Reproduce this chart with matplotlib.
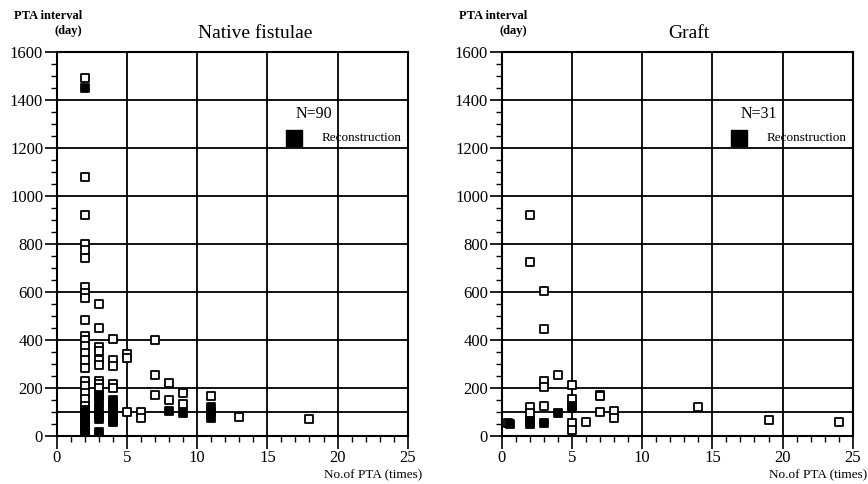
import matplotlib

matplotlib.use("Agg")
import matplotlib.pyplot as plt
from matplotlib.ticker import MultipleLocator

# Native fistulae: open = PTA only, filled = reconstruction
native_open_x = [2] * 21 + [3] * 10 + [4] * 5 + [5, 5, 5, 6, 6, 7, 7, 7, 8, 8, 9, 9, 11, 13, 18]
native_open_y = [1490, 1080, 920, 800, 775, 740, 620, 595, 575, 485, 415, 400, 375, 345,
                 315, 285, 230, 210, 180, 155, 125,
                 550, 450, 370, 355, 315, 295, 230, 215, 200, 170,
                 405, 315, 290, 215, 200,
                 340, 325, 100, 100, 75, 400, 255, 170, 220, 150, 180, 135, 165, 80, 70]
native_fill_x = [2] * 11 + [3] * 6 + [4] * 6 + [8, 9, 11, 11, 11]
native_fill_y = [1450, 110, 95, 80, 65, 50, 40, 30, 20, 10, 0,
                 165, 140, 110, 85, 70, 15,
                 150, 130, 110, 95, 75, 60,
                 105, 95, 120, 100, 75]

# Graft
graft_open_x = [0.4, 2, 2, 2, 2, 3, 3, 3, 3, 3, 4, 5, 5, 5, 5, 6, 7, 7, 7, 8, 8, 14, 19, 24]
graft_open_y = [55, 920, 725, 120, 95, 605, 445, 228, 205, 125, 255, 212, 155, 55, 25,
                58, 170, 165, 100, 103, 75, 122, 65, 60]
graft_fill_x = [0.6, 2, 2, 3, 4, 5, 5]
graft_fill_y = [50, 62, 50, 55, 95, 125, 115]

SERIF = ["Liberation Serif", "DejaVu Serif"]
plt.rcParams["font.family"] = SERIF

fig = plt.figure(figsize=(8.68, 4.84), dpi=100)


def draw_panel(left, title, title_x, n_label, ox, oy, fx, fy):
    ax = fig.add_axes([left, 0.0992, 0.404, 0.7934])
    ax.set_xlim(0, 25)
    ax.set_ylim(0, 1600)
    ax.xaxis.set_major_locator(MultipleLocator(5))
    ax.xaxis.set_minor_locator(MultipleLocator(1))
    ax.yaxis.set_major_locator(MultipleLocator(200))
    ax.yaxis.set_minor_locator(MultipleLocator(50))
    ax.tick_params(which="major", direction="out", length=9, width=1.2,
                   labelsize=12, pad=1, color="black")
    ax.tick_params(which="minor", direction="out", length=4, width=1.0)
    ax.grid(True, which="major", color="black", linewidth=1.3)
    ax.axhline(100, color="black", linewidth=1.3, zorder=1)
    for sp in ax.spines.values():
        sp.set_linewidth(1.5)
    ax.set_axisbelow(True)

    ax.scatter(ox, oy, marker="s", s=38, facecolors="white", edgecolors="black",
               linewidths=1.3, zorder=3)
    ax.scatter(fx, fy, marker="s", s=38, facecolors="black", edgecolors="black",
               linewidths=1.3, zorder=4)

    # legend-like annotation
    ax.scatter([16.9], [1240], marker="s", s=120, color="black", zorder=5)
    ax.text(17.0, 1342, n_label, fontsize=11.5, ha="left", va="center")
    ax.text(18.9, 1240, "Reconstruction", fontsize=9.5, ha="left", va="center")

    x0 = ax.get_position().x0
    fig.text(x0 + 0.029, 0.967, "PTA interval", fontsize=9, fontweight="bold",
             ha="right", va="center")
    fig.text(x0 + 0.029, 0.936, "(day)", fontsize=9, fontweight="bold",
             ha="right", va="center")
    fig.text(title_x, 0.93, title, fontsize=14, ha="center", va="center")
    x1 = ax.get_position().x1
    fig.text(x1 + 0.017, 0.018, "No.of PTA (times)", fontsize=9.5, ha="right", va="center")
    return ax


draw_panel(57 / 868, "Native fistulae", 255 / 868, "N=90",
           native_open_x, native_open_y, native_fill_x, native_fill_y)
draw_panel(502 / 868, "Graft", 689 / 868, "N=31",
           graft_open_x, graft_open_y, graft_fill_x, graft_fill_y)

fig.savefig("out.png", dpi=100)
